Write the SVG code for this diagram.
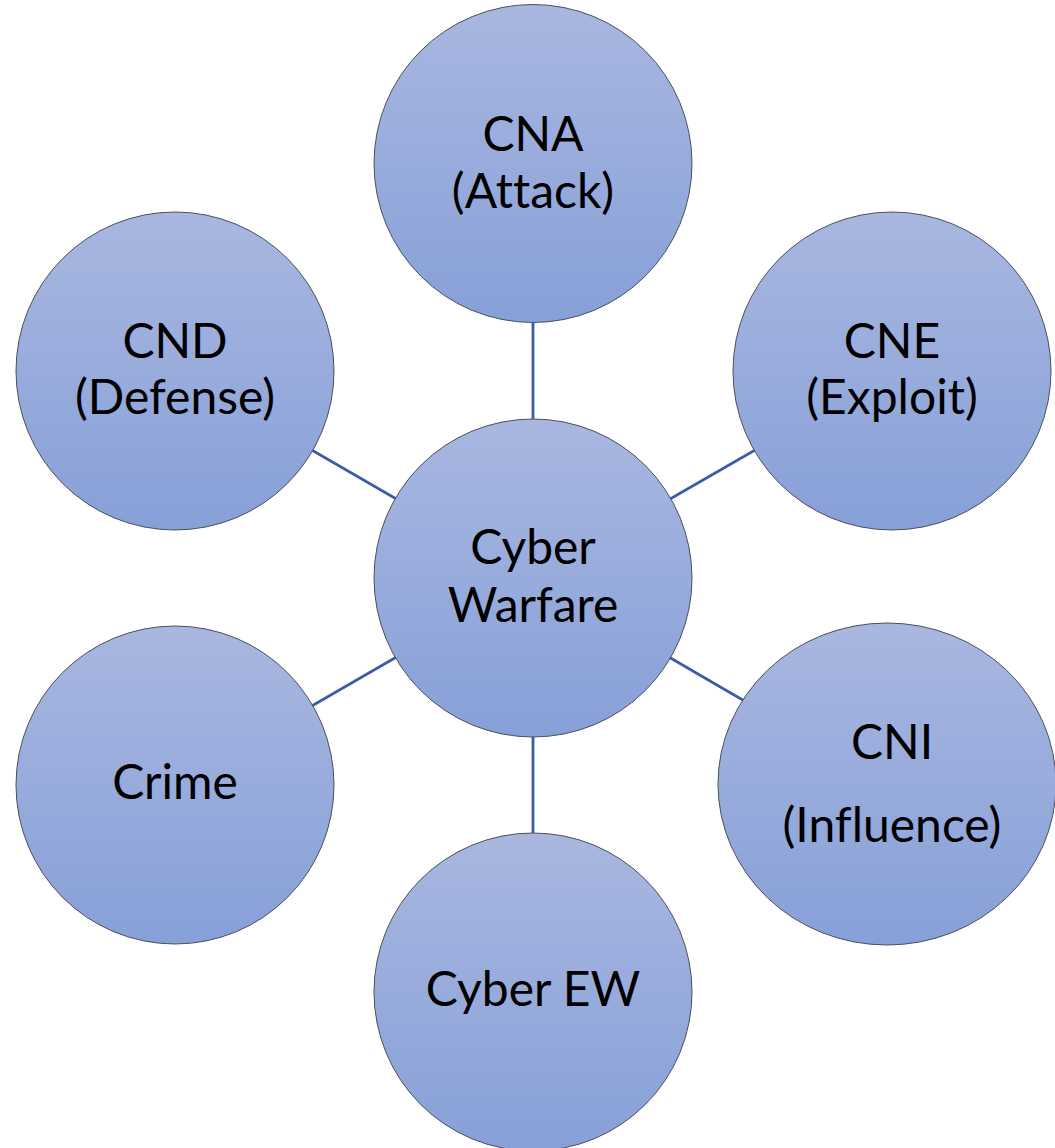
<svg xmlns="http://www.w3.org/2000/svg" width="1055" height="1148" viewBox="0 0 1055 1148">
  <defs>
    <linearGradient id="bubbleFill" x1="0" y1="0" x2="0" y2="1">
      <stop offset="0" stop-color="#A9B7E0"/>
      <stop offset="1" stop-color="#87A0D8"/>
    </linearGradient>
    <style>
      .bubble { fill: url(#bubbleFill); stroke: #4a4f5a; stroke-width: 1; }
      .link { stroke: #3A5DA6; stroke-width: 2.8; fill: none; }
      .label { font-family: Lato, "Open Sans", sans-serif; font-size: 48px; fill: #000; text-anchor: middle; font-variant-ligatures: none; }
    </style>
  </defs>
  <rect width="1055" height="1148" fill="#ffffff"/>

  <!-- spokes from the hub, drawn beneath the bubbles -->
  <g id="connectors">
    <line class="link" x1="533" y1="578" x2="533" y2="163"/>
    <line class="link" x1="533" y1="578" x2="175" y2="371"/>
    <line class="link" x1="533" y1="578" x2="892" y2="371"/>
    <line class="link" x1="533" y1="578" x2="175" y2="785"/>
    <line class="link" x1="533" y1="578" x2="887" y2="784"/>
    <line class="link" x1="533" y1="578" x2="533" y2="992"/>
  </g>

  <g id="node-cna">
    <circle class="bubble" cx="533" cy="163.5" r="159"/>
    <text class="label" x="533" y="151">CNA</text>
    <text class="label" x="533" y="208">(Attack)</text>
  </g>

  <g id="node-cnd">
    <circle class="bubble" cx="175" cy="371" r="159"/>
    <text class="label" x="175" y="358">CND</text>
    <text class="label" x="175" y="414">(Defense)</text>
  </g>

  <g id="node-cne">
    <circle class="bubble" cx="892" cy="371" r="159"/>
    <text class="label" x="892" y="358">CNE</text>
    <text class="label" x="892" y="414">(Exploit)</text>
  </g>

  <g id="node-hub">
    <circle class="bubble" cx="533" cy="578" r="159"/>
    <text class="label" x="533" y="564">Cyber</text>
    <text class="label" x="533" y="622">Warfare</text>
  </g>

  <g id="node-crime">
    <circle class="bubble" cx="175" cy="785" r="159"/>
    <text class="label" x="175" y="799">Crime</text>
  </g>

  <g id="node-cni">
    <ellipse class="bubble" cx="887" cy="784" rx="169" ry="161"/>
    <text class="label" x="892" y="759">CNI</text>
    <text class="label" x="892" y="842">(Influence)</text>
  </g>

  <g id="node-cyber-ew">
    <circle class="bubble" cx="533" cy="992" r="159"/>
    <text class="label" x="533" y="1006">Cyber EW</text>
  </g>
</svg>
